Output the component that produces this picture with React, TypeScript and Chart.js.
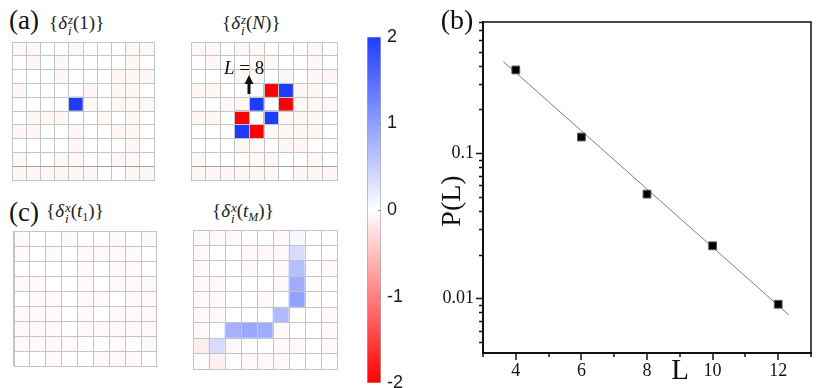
import React, { useEffect, useRef } from "react";
import { Chart, registerables } from "chart.js";
Chart.register(...registerables);

// ---------------- data ----------------
// heat-map panels: rows listed from top to bottom, values on the colour scale [-2, 2]
const A1_VALUES: number[][] = [
  [-0.07, -0.07, 0, 0, -0.07, 0, 0, 0, -0.07, -0.07],
  [0, -0.07, 0, -0.07, 0, 0, 0, 0, -0.07, 0],
  [0, 0, 0, -0.07, 0, 0, 0, -0.07, -0.07, -0.07],
  [-0.07, 0, 0, 0, 0, -0.07, 0, -0.07, -0.07, 0],
  [0, 0, 0, 0, 2, -0.07, 0, -0.07, -0.07, -0.07],
  [0, -0.07, -0.07, -0.07, 0, 0, -0.07, 0, -0.07, 0],
  [-0.07, -0.07, 0, 0, -0.07, 0, 0, -0.07, -0.07, 0],
  [0, 0, 0, 0, -0.07, 0, 0, 0, -0.07, 0],
  [-0.07, 0, 0, -0.07, -0.07, 0, 0, -0.07, -0.07, 0],
  [-0.07, -0.07, -0.07, -0.07, -0.07, -0.07, 0, 0, -0.07, -0.07],
];
const A2_VALUES: number[][] = [
  [-0.07, -0.07, 0, -0.07, -0.07, 0, 0, 0, -0.07, 0],
  [0, -0.07, 0, 0, -0.07, -0.07, 0, 0, -0.07, 0],
  [0, 0, 0, -0.07, -0.07, 0, -0.07, 0, -0.07, -0.07],
  [-0.07, -0.07, 0, 0, 0, -2, 2, -0.07, -0.07, 0],
  [0, 0, -0.07, -0.07, 2, 0, -2, -0.07, -0.07, -0.07],
  [-0.07, -0.07, 0, -2, 0, 2, -0.07, -0.07, -0.07, 0],
  [0, 0, 0, 2, -2, -0.07, -0.07, -0.07, -0.07, 0],
  [0, 0, 0, -0.07, -0.07, 0, -0.07, -0.07, 0, 0],
  [-0.07, 0, 0, 0, -0.07, -0.07, 0, 0, -0.07, 0],
  [-0.07, -0.07, -0.07, -0.07, -0.07, -0.07, 0, -0.07, -0.07, -0.07],
];
const C1_VALUES: number[][] = [
  [-0.05, 0, 0, -0.05, 0, 0, -0.05, 0, -0.05],
  [-0.05, 0, -0.05, 0, -0.05, -0.05, -0.05, -0.05, 0],
  [0, 0, 0, 0, -0.05, 0, -0.05, -0.05, 0],
  [-0.05, -0.05, 0, 0, -0.05, 0, -0.05, -0.05, -0.05],
  [0, -0.05, -0.05, 0, -0.05, -0.05, 0, -0.05, -0.05],
  [-0.05, -0.05, -0.05, 0, -0.05, 0, -0.05, -0.05, -0.05],
  [-0.05, -0.05, -0.05, 0, -0.05, -0.05, -0.05, -0.05, -0.05],
  [-0.05, -0.05, -0.05, -0.05, 0, 0, -0.05, 0, -0.05],
  [0, 0, -0.05, 0, 0, -0.05, -0.05, -0.05, 0],
];
const C2_VALUES: number[][] = [
  [-0.05, -0.05, -0.05, 0, 0, -0.05, 0.06, 0, 0],
  [-0.05, 0, 0, -0.05, -0.05, -0.05, 0.35, 0, 0],
  [-0.05, 0, 0, -0.05, 0, -0.05, 0.65, 0, -0.05],
  [-0.05, -0.05, 0, 0, 0, -0.05, 0.85, 0, 0],
  [-0.05, -0.05, 0, 0, -0.05, 0, 0.95, 0, 0],
  [-0.05, -0.05, 0, 0, 0, 0.7, 0, 0, -0.05],
  [-0.05, 0, 0.8, 0.9, 0.85, -0.05, 0, 0, -0.05],
  [-0.15, 0.35, -0.05, 0, 0, -0.05, -0.05, 0, -0.05],
  [0.03, -0.12, 0, -0.05, -0.05, -0.05, 0, 0, 0],
];

// colour bar
const COLORBAR_RANGE = [-2, 2];
const COLORBAR_TICKS = [-2, -1, 0, 1, 2];

// panel (b)
const L_VALUES = [4, 6, 8, 10, 12];
const P_VALUES = [0.374, 0.129, 0.0522, 0.023, 0.0091];
const FIT_L = [3.62, 12.32];
const FIT_P = [0.427, 0.0077];
const X_TICKS_ALL = [3, 4, 5, 6, 7, 8, 9, 10, 11, 12, 13];
const X_TICK_LABELS = [4, 6, 8, 10, 12];
const Y_TICKS_ALL = [
  0.005, 0.006, 0.007, 0.008, 0.009, 0.01, 0.02, 0.03, 0.04, 0.05, 0.06, 0.07,
  0.08, 0.09, 0.1, 0.2, 0.3, 0.4, 0.5, 0.6, 0.7, 0.8,
];
const Y_TICK_LABELS = [0.01, 0.1];

// ---------------- helpers ----------------
const BLUE = [30, 60, 255];
const RED = [255, 0, 0];
function valueColor(v: number): string {
  const t = Math.max(-1, Math.min(1, v / 2));
  const end = t >= 0 ? BLUE : RED;
  const s = Math.abs(t);
  const c = end.map((e) => Math.round(255 + (e - 255) * s));
  return `rgb(${c[0]},${c[1]},${c[2]})`;
}
const GRID = "#c0c6c6";
const SERIF = '"Liberation Serif", "Times New Roman", serif';
const SANS = '"Liberation Sans", Arial, sans-serif';

function Heatmap(props: {
  values: number[][];
  left: number;
  top: number;
  width: number;
  height: number;
  darkLine?: number;
}) {
  const { values, left, top, width, height, darkLine } = props;
  const ref = useRef<HTMLCanvasElement>(null);
  useEffect(() => {
    const rows = values.length;
    const labels = values[0].map((_, i) => String(i));
    const datasets: any[] = [];
    for (let r = rows - 1; r >= 0; r--) {
      datasets.push({
        data: values[r].map(() => 1),
        backgroundColor: values[r].map(valueColor),
        borderWidth: 0,
        barPercentage: 1,
        categoryPercentage: 1,
      });
    }
    const chart = new Chart(ref.current as HTMLCanvasElement, {
      type: "bar",
      data: { labels, datasets },
      options: {
        animation: false,
        responsive: false,
        maintainAspectRatio: false,
        events: [],
        layout: { padding: 1 },
        plugins: { legend: { display: false }, tooltip: { enabled: false } },
        scales: {
          x: {
            stacked: true,
            offset: true,
            grid: { offset: true, color: GRID, lineWidth: 1, drawTicks: false, z: 1 },
            ticks: { display: false },
            border: { display: true, color: GRID, z: 1 },
            afterFit: (s: any) => {
              s.height = 0;
            },
          },
          y: {
            stacked: true,
            min: 0,
            max: rows,
            ticks: { display: false, stepSize: 1 },
            grid: {
              drawTicks: false,
              lineWidth: 1,
              z: 1,
              color: (c: any) =>
                darkLine !== undefined && c.tick && c.tick.value === darkLine ? "#9ca4a4" : GRID,
            },
            border: { display: true, color: GRID, z: 1 },
            afterFit: (s: any) => {
              s.width = 0;
            },
          },
        },
      } as any,
    });
    return () => chart.destroy();
  }, []);
  return (
    <canvas
      ref={ref}
      width={width + 2}
      height={height + 2}
      style={{ position: "absolute", left: left - 1, top: top - 1, width: width + 2, height: height + 2 }}
    />
  );
}

function ColorBar() {
  const ref = useRef<HTMLCanvasElement>(null);
  useEffect(() => {
    const tickPlugin = {
      id: "cbticks",
      afterDatasetsDraw(chart: any) {
        const { ctx, chartArea: a, scales } = chart;
        ctx.save();
        ctx.strokeStyle = "#8a8f9a";
        ctx.lineWidth = 1;
        COLORBAR_TICKS.slice(1, -1).forEach((v) => {
          const py = Math.round(scales.y.getPixelForValue(v)) + 0.5;
          ctx.beginPath();
          ctx.moveTo(a.right - 3, py);
          ctx.lineTo(a.right, py);
          ctx.stroke();
        });
        ctx.restore();
      },
    };
    const chart = new Chart(ref.current as HTMLCanvasElement, {
      type: "bar",
      data: {
        labels: [""],
        datasets: [
          {
            data: [COLORBAR_RANGE as any],
            backgroundColor: (c: any) => {
              const area = c.chart.chartArea;
              if (!area) return "#fff";
              const g = c.chart.ctx.createLinearGradient(0, area.top, 0, area.bottom);
              g.addColorStop(0, valueColor(2));
              g.addColorStop(0.5, "#ffffff");
              g.addColorStop(1, valueColor(-2));
              return g;
            },
            borderColor: "#a4a8b0",
            borderWidth: 1,
            borderSkipped: false,
            barPercentage: 1,
            categoryPercentage: 1,
          },
        ],
      },
      options: {
        animation: false,
        responsive: false,
        events: [],
        layout: { padding: { left: 17, top: 14, bottom: 14, right: 0 } },
        plugins: { legend: { display: false }, tooltip: { enabled: false } },
        scales: {
          x: { display: false },
          y: {
            position: "right",
            min: COLORBAR_RANGE[0],
            max: COLORBAR_RANGE[1],
            afterBuildTicks: (s: any) => {
              s.ticks = COLORBAR_TICKS.map((v) => ({ value: v }));
            },
            ticks: { padding: 6, color: "#1a1a1a", font: { family: SANS, size: 18 } },
            grid: { display: false, drawTicks: false },
            border: { display: false },
            afterFit: (s: any) => {
              s.width = 39;
            },
          },
        },
      } as any,
      plugins: [tickPlugin],
    });
    return () => chart.destroy();
  }, []);
  return (
    <canvas
      ref={ref}
      width={70}
      height={380}
      style={{ position: "absolute", left: 350, top: 20, width: 70, height: 380 }}
    />
  );
}

function PowerLaw() {
  const ref = useRef<HTMLCanvasElement>(null);
  useEffect(() => {
    const deco = {
      id: "deco",
      afterDraw(chart: any) {
        const { ctx, chartArea: a, scales } = chart;
        const { x, y } = scales;
        ctx.save();
        ctx.strokeStyle = "#111";
        ctx.lineWidth = 1.5;
        ctx.beginPath();
        ctx.moveTo(a.left, a.top);
        ctx.lineTo(a.right, a.top);
        ctx.lineTo(a.right, a.bottom);
        ctx.stroke();
        X_TICKS_ALL.forEach((v) => {
          const px = Math.round(x.getPixelForValue(v));
          const len = X_TICK_LABELS.includes(v) ? 7 : 4;
          ctx.beginPath();
          ctx.moveTo(px, a.bottom);
          ctx.lineTo(px, a.bottom + len);
          ctx.stroke();
        });
        Y_TICKS_ALL.forEach((v) => {
          const py = Math.round(y.getPixelForValue(v)) + 0.5;
          const major = Y_TICK_LABELS.some((t) => Math.abs(t - v) < 1e-9);
          const len = major ? 7 : 4;
          ctx.beginPath();
          ctx.moveTo(a.left - len, py);
          ctx.lineTo(a.left, py);
          ctx.stroke();
        });
        ctx.fillStyle = "#111";
        ctx.textAlign = "center";
        ctx.textBaseline = "middle";
        ctx.font = `28px ${SERIF}`;
        ctx.fillText("(b)", 27, 22);
        ctx.font = `29px ${SERIF}`;
        ctx.fillText("L", 250, 371);
        ctx.translate(23, 201);
        ctx.rotate(-Math.PI / 2);
        ctx.font = `28px ${SERIF}`;
        ctx.fillText("P(L)", 0, 0);
        ctx.restore();
      },
    };
    const chart = new Chart(ref.current as HTMLCanvasElement, {
      type: "scatter",
      data: {
        datasets: [
          {
            type: "line",
            data: FIT_L.map((l, i) => ({ x: l, y: FIT_P[i] })),
            borderColor: "#7c7c7c",
            borderWidth: 1,
            pointRadius: 0,
            order: 2,
          } as any,
          {
            data: L_VALUES.map((l, i) => ({ x: l, y: P_VALUES[i] })),
            pointStyle: "rect",
            pointRadius: 5.5,
            backgroundColor: "#000",
            borderColor: "#555",
            borderWidth: 1,
            order: 1,
          },
        ],
      },
      options: {
        animation: false,
        responsive: false,
        events: [],
        layout: { padding: { left: 0, top: 22, right: 12, bottom: 0 } },
        plugins: { legend: { display: false }, tooltip: { enabled: false } },
        scales: {
          x: {
            type: "linear",
            min: 3,
            max: 13,
            afterBuildTicks: (s: any) => {
              s.ticks = X_TICKS_ALL.map((v) => ({ value: v }));
            },
            ticks: {
              autoSkip: false,
              maxRotation: 0,
              padding: 7,
              color: "#111",
              font: { family: SERIF, size: 18 },
              callback: (v: any) => (X_TICK_LABELS.includes(v) ? String(v) : ""),
            },
            grid: { display: false, drawTicks: false },
            border: { display: true, color: "#111", width: 2 },
            afterFit: (s: any) => {
              s.height = 35;
            },
          },
          y: {
            type: "logarithmic",
            min: 0.0042,
            max: 0.8,
            afterBuildTicks: (s: any) => {
              s.ticks = Y_TICKS_ALL.map((v) => ({ value: v }));
            },
            ticks: {
              autoSkip: false,
              padding: 9,
              color: "#111",
              font: { family: SERIF, size: 18 },
              callback: (v: any) => {
                const t = Y_TICK_LABELS.find((u) => Math.abs(u - v) < 1e-9);
                return t !== undefined ? String(t) : "";
              },
            },
            grid: { display: false, drawTicks: false },
            border: { display: true, color: "#111", width: 2 },
            afterFit: (s: any) => {
              s.width = 53;
            },
          },
        },
      } as any,
      plugins: [deco],
    });
    return () => chart.destroy();
  }, []);
  return (
    <canvas
      ref={ref}
      width={393}
      height={388}
      style={{ position: "absolute", left: 430, top: 0, width: 393, height: 388 }}
    />
  );
}

function DeltaLabel(props: { sup: string; arg: React.ReactNode; left: number; top: number }) {
  const { sup, arg, left, top } = props;
  return (
    <div
      style={{
        position: "absolute",
        left,
        top,
        font: `19px ${SERIF}`,
        lineHeight: "22px",
        whiteSpace: "nowrap",
        color: "#222",
      }}
    >
      {"{"}
      <i>δ</i>
      <span
        style={{
          display: "inline-block",
          verticalAlign: "-6px",
          fontSize: "13px",
          lineHeight: "11px",
          fontStyle: "italic",
          marginLeft: 1,
        }}
      >
        <span style={{ display: "block" }}>{sup}</span>
        <span style={{ display: "block" }}>i</span>
      </span>
      {arg}
      {"}"}
    </div>
  );
}

const panelLabel = (text: string, left: number, top: number) => (
  <div
    style={{
      position: "absolute",
      left,
      top,
      font: `27px ${SERIF}`,
      lineHeight: "28px",
      color: "#111",
      whiteSpace: "nowrap",
    }}
  >
    {text}
  </div>
);

export default function App() {
  return (
    <div
      style={{
        position: "absolute",
        left: 0,
        top: 0,
        width: 823,
        height: 388,
        background: "#fff",
        overflow: "hidden",
      }}
    >
      {panelLabel("(a)", 9, 6)}
      {panelLabel("(c)", 9, 198)}
      <DeltaLabel sup="z" arg="(1)" left={49} top={12} />
      <DeltaLabel sup="z" arg={<>(<i>N</i>)</>} left={222} top={12} />
      <DeltaLabel
        sup="x"
        arg={
          <>
            (<i>t</i>
            <sub style={{ fontSize: 12, verticalAlign: "-4px" }}>1</sub>)
          </>
        }
        left={46}
        top={200}
      />
      <DeltaLabel
        sup="x"
        arg={
          <>
            (<i>t</i>
            <sub style={{ fontSize: 12, fontStyle: "italic", verticalAlign: "-4px" }}>M</sub>)
          </>
        }
        left={212}
        top={200}
      />
      <Heatmap values={A1_VALUES} left={12} top={42} width={142} height={138} darkLine={1} />
      <Heatmap values={A2_VALUES} left={191} top={42} width={146} height={138} darkLine={1} />
      <Heatmap values={C1_VALUES} left={14} top={231} width={143} height={135} />
      <Heatmap values={C2_VALUES} left={193} top={230} width={144} height={139} />
      <div
        style={{
          position: "absolute",
          left: 224,
          top: 57,
          font: `19px ${SERIF}`,
          lineHeight: "22px",
          color: "#111",
          whiteSpace: "nowrap",
        }}
      >
        <i>L</i> = 8
      </div>
      <svg
        width={10}
        height={20}
        style={{ position: "absolute", left: 244, top: 75 }}
        viewBox="0 0 10 20"
      >
        <polygon points="0.5,9 5,0 9.5,9" fill="#111" />
        <rect x={3.5} y={8} width={3} height={11} fill="#111" />
      </svg>
      <ColorBar />
      <PowerLaw />
    </div>
  );
}
